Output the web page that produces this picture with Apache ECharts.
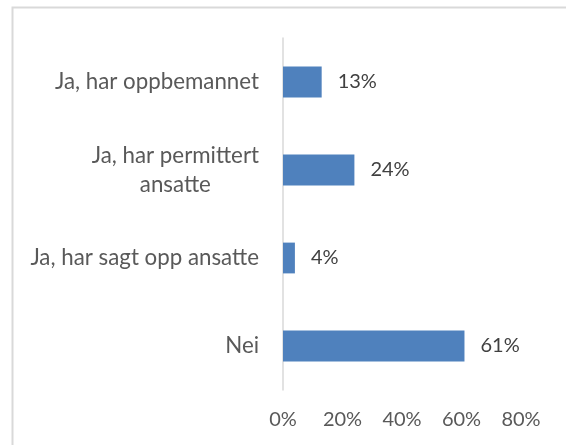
<!DOCTYPE html>
<html>
<head>
<meta charset="utf-8">
<script src="https://cdn.jsdelivr.net/npm/echarts@6/dist/echarts.min.js"></script>
<style>
  html, body { margin: 0; padding: 0; background: #fff; }
  #main { width: 566px; height: 445px; }
</style>
</head>
<body>
<div id="main"></div>
<script>
// 类目（从下到上）
var categories = ['Nei', 'Ja, har sagt opp ansatte', 'Ja, har permittert\nansatte', 'Ja, har oppbemannet'];
// 百分比
var values = [61, 4, 24, 13];
// 横轴
var axisMin = 0;
var axisMax = 80;
var axisStep = 20;

var myChart = echarts.init(document.getElementById('main'));
var font = 'Lato';
var catSize = 22.3;

// 量一下多行标签的宽度，让换行的文字居中
var ctx = document.createElement('canvas').getContext('2d');
ctx.font = catSize + 'px ' + font;
var blockWidth = 0;
categories.forEach(function (c) {
  if (c.indexOf('\n') > -1) {
    c.split('\n').forEach(function (line) {
      blockWidth = Math.max(blockWidth, ctx.measureText(line).width);
    });
  }
});

var option = {
  animation: false,
  backgroundColor: '#fff',
  graphic: [{
    type: 'rect',
    shape: { x: 12.5, y: 7.5, width: 700, height: 600 },
    style: { fill: 'none', stroke: '#d9d9d9', lineWidth: 2 }
  }],
  grid: { left: 283, right: 45, top: 38, bottom: 55, containLabel: false },
  xAxis: {
    type: 'value',
    min: axisMin,
    max: axisMax,
    interval: axisStep,
    axisLine: { show: false },
    axisTick: { show: false },
    splitLine: { show: false },
    axisLabel: {
      color: '#595959',
      fontFamily: font,
      fontSize: 20,
      margin: 20,
      formatter: '{value}%'
    }
  },
  yAxis: {
    type: 'category',
    data: categories,
    axisLine: { show: true, lineStyle: { color: '#d9d9d9', width: 1.5 } },
    axisTick: { show: false },
    axisLabel: {
      color: '#595959',
      fontFamily: font,
      fontSize: catSize,
      margin: 24,
      lineHeight: 29,
      align: 'right',
      formatter: function (v) {
        if (v.indexOf('\n') < 0) return v;
        return v.split('\n').map(function (l) { return '{c|' + l + '}'; }).join('\n');
      },
      rich: {
        c: {
          width: blockWidth,
          align: 'center',
          color: '#595959',
          fontFamily: font,
          fontSize: catSize,
          lineHeight: 29
        }
      }
    }
  },
  series: [{
    type: 'bar',
    data: values,
    barCategoryGap: '65%',
    itemStyle: { color: '#4f81bd' },
    label: {
      show: true,
      position: 'right',
      distance: 16,
      color: '#404040',
      fontFamily: font,
      fontSize: 20,
      formatter: '{c}%'
    }
  }]
};

myChart.setOption(option);
</script>
</body>
</html>
